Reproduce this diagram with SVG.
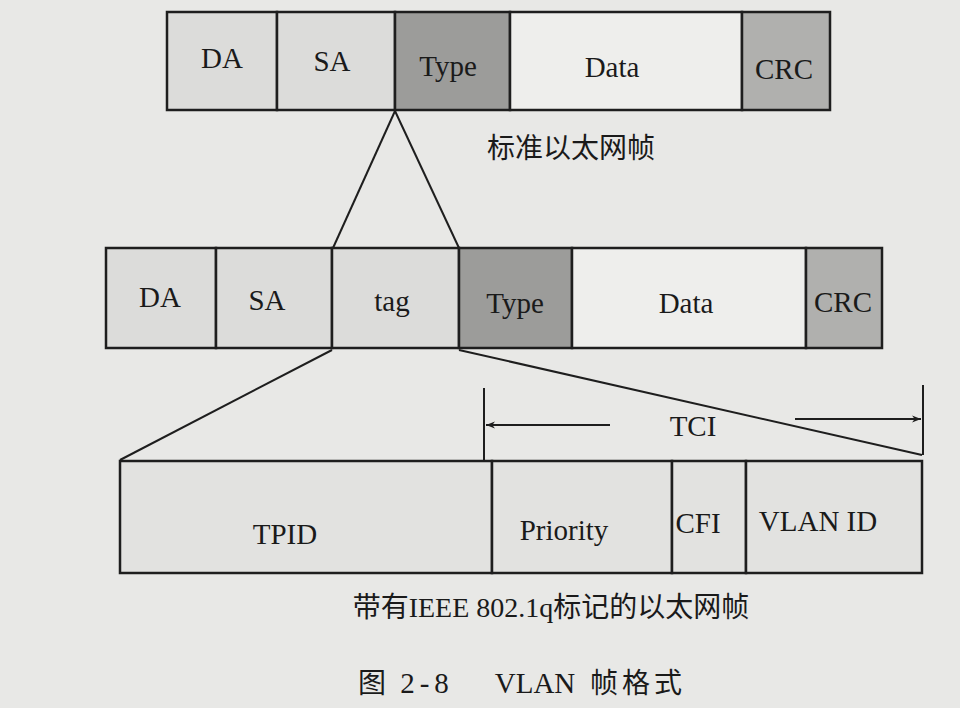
<svg xmlns="http://www.w3.org/2000/svg" width="960" height="708" viewBox="0 0 960 708">
<style>
.bg{fill:#e8e8e6}
.cell{stroke:#1e1e1e;stroke-width:2.5}
.light{fill:#dcdcda}
.dark{fill:#9c9c9a}
.mid{fill:#b0b0ae}
.white{fill:#eeeeec}
.pale{fill:#e2e2e0}
.lbl{font-family:"Liberation Serif","Times New Roman",serif;font-size:29px;fill:#1a1a1a;text-anchor:middle}
.cap{font-family:"Liberation Serif","Noto Sans CJK SC",serif;font-size:28px;fill:#1a1a1a;text-anchor:middle}
.cjk{font-family:"Noto Sans CJK SC",sans-serif;font-size:28px;fill:#1a1a1a;text-anchor:middle}
.ln{stroke:#1e1e1e;stroke-width:2;fill:none}
</style>
<defs>
<marker id="ah" viewBox="0 0 10 10" refX="10" refY="5" markerWidth="9" markerHeight="9" orient="auto" markerUnits="userSpaceOnUse">
<path d="M0,1 L10,5 L0,9 L3,5 Z" fill="#1e1e1e"/>
</marker>
</defs>
<rect class="bg" x="0" y="0" width="960" height="708"/>

<g id="connectors">
<line class="ln" x1="395" y1="111" x2="333" y2="248"/>
<line class="ln" x1="395" y1="111" x2="459" y2="248"/>
<line class="ln" x1="332" y1="350" x2="120" y2="460"/>
<line class="ln" x1="459" y1="350" x2="922" y2="455"/>
<line class="ln" x1="484" y1="388" x2="484" y2="462"/>
<line class="ln" x1="923" y1="385" x2="923" y2="455"/>
<line class="ln" x1="610" y1="425" x2="486" y2="425" marker-end="url(#ah)"/>
<line class="ln" x1="795" y1="419" x2="921" y2="419" marker-end="url(#ah)"/>
<text class="lbl" x="693" y="436" font-size="31">TCI</text>
</g>

<g id="frame-standard">
<rect class="cell light" x="167" y="12" width="110" height="98"/>
<rect class="cell light" x="277" y="12" width="118" height="98"/>
<rect class="cell dark" x="395" y="12" width="115" height="98"/>
<rect class="cell white" x="510" y="12" width="232" height="98"/>
<rect class="cell mid" x="742" y="12" width="88" height="98"/>
<text class="lbl" x="222" y="68">DA</text>
<text class="lbl" x="332" y="71">SA</text>
<text class="lbl" x="448" y="76" font-size="32">Type</text>
<text class="lbl" x="612" y="77">Data</text>
<text class="lbl" x="784" y="79">CRC</text>
<text class="cjk" x="571" y="158" font-size="30">标准以太网帧</text>
</g>

<g id="frame-tagged">
<rect class="cell light" x="106" y="248" width="110" height="100"/>
<rect class="cell light" x="216" y="248" width="116" height="100"/>
<rect class="cell light" x="332" y="248" width="127" height="100"/>
<rect class="cell dark" x="459" y="248" width="113" height="100"/>
<rect class="cell white" x="572" y="248" width="234" height="100"/>
<rect class="cell mid" x="806" y="248" width="76" height="100"/>
<text class="lbl" x="160" y="307">DA</text>
<text class="lbl" x="267" y="310">SA</text>
<text class="lbl" x="392" y="311">tag</text>
<text class="lbl" x="515" y="313" font-size="31">Type</text>
<text class="lbl" x="686" y="313">Data</text>
<text class="lbl" x="843" y="312">CRC</text>
</g>

<g id="tag-detail">
<rect class="cell pale" x="120" y="461" width="372" height="112"/>
<rect class="cell pale" x="492" y="461" width="180" height="112"/>
<rect class="cell pale" x="672" y="461" width="74" height="112"/>
<rect class="cell pale" x="746" y="461" width="176" height="112"/>
<text class="lbl" x="285" y="544" font-size="31">TPID</text>
<text class="lbl" x="564" y="540" font-size="30">Priority</text>
<text class="lbl" x="698" y="533" font-size="26">CFI</text>
<text class="lbl" x="818" y="531" font-size="28">VLAN ID</text>
</g>

<g id="captions">
<text class="cap" x="551" y="617">带有IEEE 802.1q标记的以太网帧</text>
<text class="cjk" x="372" y="693">图</text>
<text class="lbl" x="427" y="693" font-size="30" letter-spacing="5">2-8</text>
<text class="lbl" x="535" y="693" font-size="31">VLAN</text>
<text class="cjk" x="638" y="693" letter-spacing="4">帧格式</text>
</g>
</svg>
